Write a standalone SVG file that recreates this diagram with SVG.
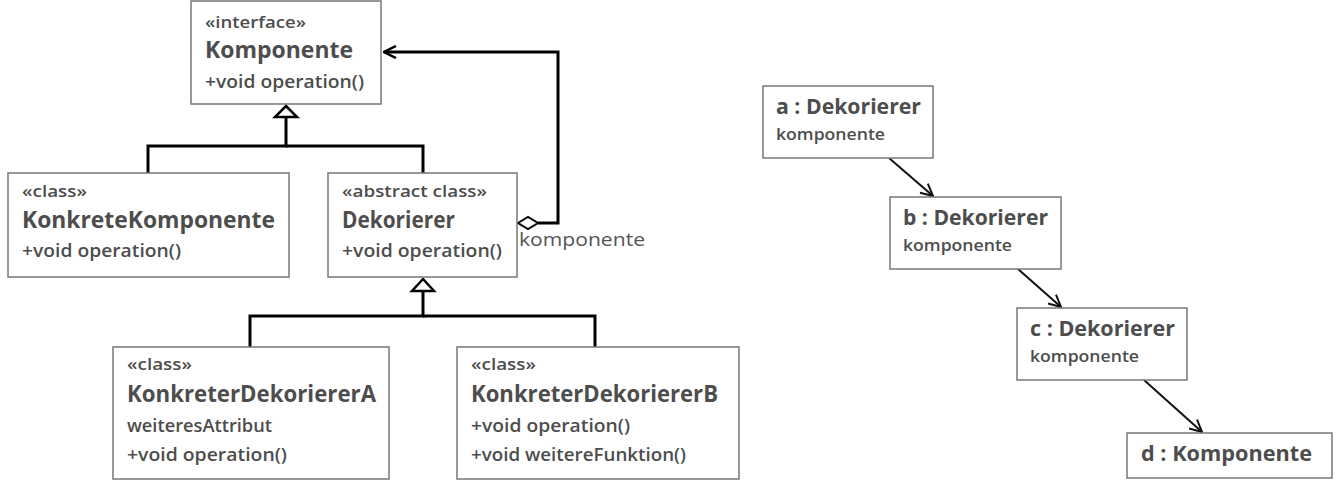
<svg xmlns="http://www.w3.org/2000/svg" width="1338" height="486" viewBox="0 0 1338 486">
<defs>
<style>
.box{fill:#fff;stroke:#777;stroke-width:1.5}
.t{font-family:"Open Sans","Liberation Sans",Arial,sans-serif;fill:#4d4d4d}
.st{font-size:16.5px;font-weight:600}
.nm{font-size:23px;font-weight:bold}
.op{font-size:17.5px;font-weight:600}
.on{font-size:20.5px;font-weight:bold}
.oa{font-size:15.5px;font-weight:600}
.lbl{font-size:18px;font-weight:normal;fill:#555}
.c{fill:none;stroke:#000;stroke-width:3}
.c2{fill:none;stroke:#111;stroke-width:2}
.tri{fill:#fff;stroke:#000;stroke-width:2.5}
</style>
<marker id="open" viewBox="0 0 14 14" refX="13" refY="7" markerWidth="14" markerHeight="14" markerUnits="userSpaceOnUse" orient="auto">
<path d="M1,1 L13,7 L1,13" fill="none" stroke="#000" stroke-width="2.5"/>
</marker>
<marker id="open2" viewBox="0 0 14 14" refX="13" refY="7" markerWidth="14" markerHeight="14" markerUnits="userSpaceOnUse" orient="auto">
<path d="M1,1 L13,7 L1,13" fill="none" stroke="#111" stroke-width="2"/>
</marker>
</defs>
<rect width="1338" height="486" fill="#fff"/>
<g id="connectors">
<polyline class="c" points="286,117 286,146 148,146 148,173"/>
<polyline class="c" points="286,146 423,146 423,173"/>
<path class="tri" d="M286,106 L297,117 L275,117 Z"/>
<polyline class="c" points="423,291 423,316 250,316 250,347"/>
<polyline class="c" points="423,316 595,316 595,347"/>
<path class="tri" d="M423,279 L434,291 L412,291 Z"/>
<polyline class="c" points="538,223 558,223 558,52 384,52" marker-end="url(#open)"/>
<path d="M518,223 L528,217 L538,223 L528,229 Z" fill="#fff" stroke="#000" stroke-width="2"/>
<text class="t lbl" x="519" y="246" textLength="126" lengthAdjust="spacingAndGlyphs">komponente</text>
<line class="c2" x1="889" y1="158" x2="933" y2="196" marker-end="url(#open2)"/>
<line class="c2" x1="1018" y1="269" x2="1061" y2="307" marker-end="url(#open2)"/>
<line class="c2" x1="1144" y1="380" x2="1202" y2="432" marker-end="url(#open2)"/>
</g>
<g id="komponente">
<rect class="box" x="191" y="1" width="190" height="103"/>
<text class="t st" x="205" y="28" textLength="101" lengthAdjust="spacingAndGlyphs">«interface»</text>
<text class="t nm" x="205" y="58" textLength="148" lengthAdjust="spacingAndGlyphs">Komponente</text>
<text class="t op" x="205" y="88" textLength="159" lengthAdjust="spacingAndGlyphs">+void operation()</text>
</g>
<g id="konkreteKomponente">
<rect class="box" x="8" y="173" width="281" height="104"/>
<text class="t st" x="22" y="197" textLength="65" lengthAdjust="spacingAndGlyphs">«class»</text>
<text class="t nm" x="22" y="228" textLength="253" lengthAdjust="spacingAndGlyphs">KonkreteKomponente</text>
<text class="t op" x="22" y="257" textLength="159" lengthAdjust="spacingAndGlyphs">+void operation()</text>
</g>
<g id="dekorierer">
<rect class="box" x="328" y="173" width="189" height="104"/>
<text class="t st" x="342" y="197" textLength="145" lengthAdjust="spacingAndGlyphs">«abstract class»</text>
<text class="t nm" x="342" y="228" textLength="113" lengthAdjust="spacingAndGlyphs">Dekorierer</text>
<text class="t op" x="342" y="257" textLength="160" lengthAdjust="spacingAndGlyphs">+void operation()</text>
</g>
<g id="konkreterDekoriererA">
<rect class="box" x="113" y="347" width="276" height="132"/>
<text class="t st" x="127" y="370" textLength="65" lengthAdjust="spacingAndGlyphs">«class»</text>
<text class="t nm" x="127" y="402" textLength="249" lengthAdjust="spacingAndGlyphs">KonkreterDekoriererA</text>
<text class="t op" x="127" y="432" textLength="145" lengthAdjust="spacingAndGlyphs">weiteresAttribut</text>
<text class="t op" x="127" y="461" textLength="160" lengthAdjust="spacingAndGlyphs">+void operation()</text>
</g>
<g id="konkreterDekoriererB">
<rect class="box" x="457" y="347" width="282" height="132"/>
<text class="t st" x="471" y="370" textLength="65" lengthAdjust="spacingAndGlyphs">«class»</text>
<text class="t nm" x="471" y="402" textLength="247" lengthAdjust="spacingAndGlyphs">KonkreterDekoriererB</text>
<text class="t op" x="471" y="432" textLength="159" lengthAdjust="spacingAndGlyphs">+void operation()</text>
<text class="t op" x="471" y="461" textLength="215" lengthAdjust="spacingAndGlyphs">+void weitereFunktion()</text>
</g>
<g id="objA">
<rect class="box" x="763" y="86" width="170" height="72"/>
<text class="t on" x="776" y="114" textLength="145" lengthAdjust="spacingAndGlyphs">a : Dekorierer</text>
<text class="t oa" x="776" y="140" textLength="109" lengthAdjust="spacingAndGlyphs">komponente</text>
</g>
<g id="objB">
<rect class="box" x="890" y="197" width="171" height="72"/>
<text class="t on" x="903" y="225" textLength="145" lengthAdjust="spacingAndGlyphs">b : Dekorierer</text>
<text class="t oa" x="903" y="251" textLength="109" lengthAdjust="spacingAndGlyphs">komponente</text>
</g>
<g id="objC">
<rect class="box" x="1017" y="308" width="170" height="72"/>
<text class="t on" x="1030" y="336" textLength="145" lengthAdjust="spacingAndGlyphs">c : Dekorierer</text>
<text class="t oa" x="1030" y="362" textLength="109" lengthAdjust="spacingAndGlyphs">komponente</text>
</g>
<g id="objD">
<rect class="box" x="1127" y="433" width="205" height="45"/>
<text class="t on" x="1141" y="461" textLength="171" lengthAdjust="spacingAndGlyphs">d : Komponente</text>
</g>
</svg>
